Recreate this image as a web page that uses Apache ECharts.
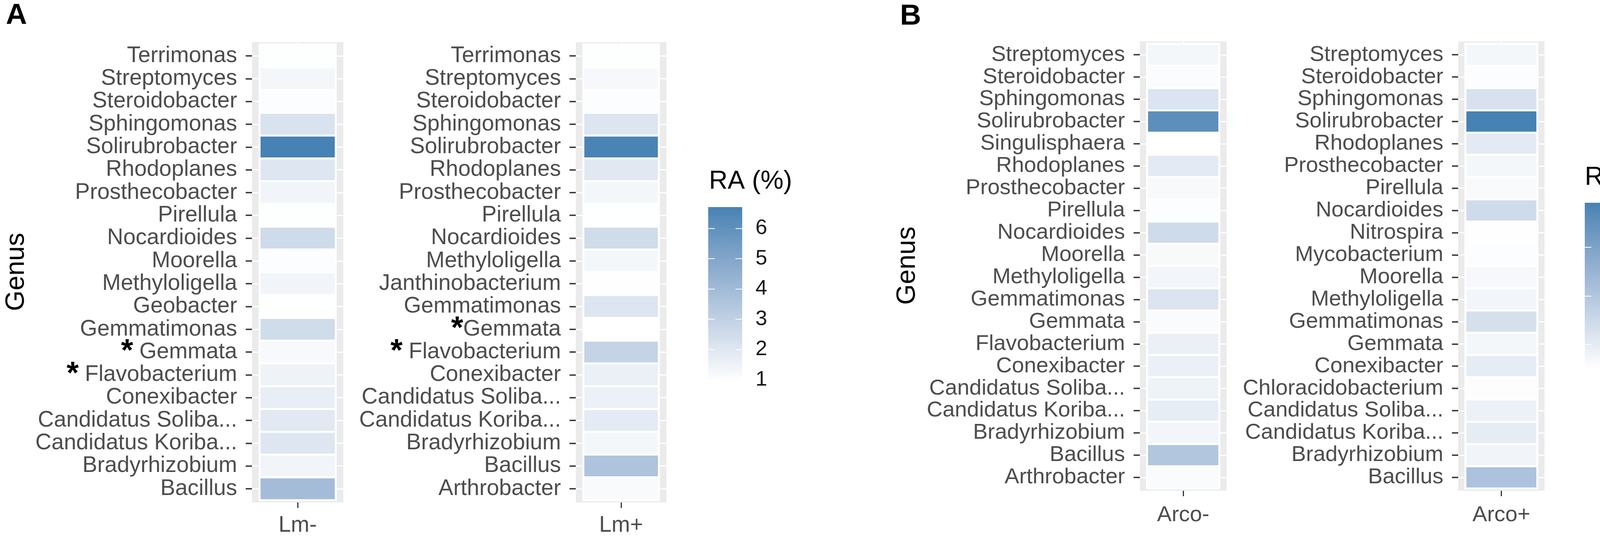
<!DOCTYPE html>
<html>
<head>
<meta charset="utf-8">
<script src="https://cdn.jsdelivr.net/npm/echarts@6/dist/echarts.min.js"></script>
<style>
html,body{margin:0;padding:0;background:#fff;}
#chart{width:4284px;height:1377px;}
</style>
</head>
<body>
<div id="chart"></div>
<script>
// genera listed top -> bottom, as drawn; "*" marks a significant genus
let lmMinusGenus=["Terrimonas","Streptomyces","Steroidobacter","Sphingomonas","Solirubrobacter","Rhodoplanes","Prosthecobacter","Pirellula","Nocardioides","Moorella","Methyloligella","Geobacter","Gemmatimonas","* Gemmata","* Flavobacterium","Conexibacter","Candidatus Soliba...","Candidatus Koriba...","Bradyrhizobium","Bacillus"];
let lmMinusRA=[1.0,1.3,1.05,2.2,6.7,2.05,1.4,1.0,2.55,1.05,1.4,0.97,2.5,1.2,1.5,1.7,1.9,2.05,1.4,3.9];

let lmPlusGenus=["Terrimonas","Streptomyces","Steroidobacter","Sphingomonas","Solirubrobacter","Rhodoplanes","Prosthecobacter","Pirellula","Nocardioides","Methyloligella","Janthinobacterium","Gemmatimonas","*Gemmata","* Flavobacterium","Conexibacter","Candidatus Soliba...","Candidatus Koriba...","Bradyrhizobium","Bacillus","Arthrobacter"];
let lmPlusRA=[1.0,1.25,1.05,2.1,6.6,1.95,1.3,0.97,2.5,1.3,0.98,2.1,0.95,2.9,1.6,1.55,1.8,1.3,3.6,1.15];

let arcoMinusGenus=["Streptomyces","Steroidobacter","Sphingomonas","Solirubrobacter","Singulisphaera","Rhodoplanes","Prosthecobacter","Pirellula","Nocardioides","Moorella","Methyloligella","Gemmatimonas","Gemmata","Flavobacterium","Conexibacter","Candidatus Soliba...","Candidatus Koriba...","Bradyrhizobium","Bacillus","Arthrobacter"];
let arcoMinusRA=[1.4,1.15,2.4,7.1,1.0,2.1,1.3,1.1,2.9,1.3,1.5,2.4,1.2,1.8,1.8,1.65,1.95,1.5,4.0,1.2];

let arcoPlusGenus=["Streptomyces","Steroidobacter","Sphingomonas","Solirubrobacter","Rhodoplanes","Prosthecobacter","Pirellula","Nocardioides","Nitrospira","Mycobacterium","Moorella","Methyloligella","Gemmatimonas","Gemmata","Conexibacter","Chloracidobacterium","Candidatus Soliba...","Candidatus Koriba...","Bradyrhizobium","Bacillus"];
let arcoPlusRA=[1.4,1.1,2.5,7.83,2.1,1.4,1.25,2.9,1.05,1.1,1.35,1.5,2.6,1.4,2.0,1.08,1.75,2.0,1.55,4.2];

let sampleNames=["Lm-","Lm+","Arco-","Arco+"];
let legendATicks=[1,2,3,4,5,6];
let legendBTicks=[2,4,6];

const FONT='"Liberation Sans", Arial, sans-serif';
const LOW='#FFFFFF', HIGH='#4682B4';

// ggplot-like gradient: interpolate in Lab
function hexToLab(hex){
    let c=[1,3,5].map(i=>parseInt(hex.substr(i,2),16)/255).map(v=>v<=0.04045?v/12.92:Math.pow((v+0.055)/1.055,2.4));
    let X=(0.4124*c[0]+0.3576*c[1]+0.1805*c[2])/0.95047;
    let Y=0.2126*c[0]+0.7152*c[1]+0.0722*c[2];
    let Z=(0.0193*c[0]+0.1192*c[1]+0.9505*c[2])/1.08883;
    let f=t=>t>0.008856?Math.cbrt(t):7.787*t+16/116;
    return [116*f(Y)-16,500*(f(X)-f(Y)),200*(f(Y)-f(Z))];
}
function labToHex(L,a,b){
    let fy=(L+16)/116, fx=fy+a/500, fz=fy-b/200;
    let inv=t=>t*t*t>0.008856?t*t*t:(t-16/116)/7.787;
    let X=inv(fx)*0.95047, Y=inv(fy), Z=inv(fz)*1.08883;
    let rgb=[3.2406*X-1.5372*Y-0.4986*Z,-0.9689*X+1.8758*Y+0.0415*Z,0.0557*X-0.2040*Y+1.0570*Z];
    return '#'+rgb.map(v=>{
        v=v<=0.0031308?12.92*v:1.055*Math.pow(v,1/2.4)-0.055;
        v=Math.round(Math.max(0,Math.min(1,v))*255);
        return v.toString(16).padStart(2,'0');
    }).join('');
}
function gradientColors(lo,hi,n){
    let a=hexToLab(lo), b=hexToLab(hi), out=[];
    for(let i=0;i<=n;i++){
        let t=i/n;
        out.push(labToHex(a[0]+(b[0]-a[0])*t,a[1]+(b[1]-a[1])*t,a[2]+(b[2]-a[2])*t));
    }
    return out;
}
let scaleColors=gradientColors(LOW,HIGH,20);

let allA=lmMinusRA.concat(lmPlusRA), allB=arcoMinusRA.concat(arcoPlusRA);
let rangeA=[Math.min(...allA),Math.max(...allA)];
let rangeB=[Math.min(...allB),Math.max(...allB)];

let panels=[
    {genus:lmMinusGenus, ra:lmMinusRA, grid:{left:645,top:108,width:234,height:1178}, fs:57, xMargin:31},
    {genus:lmPlusGenus, ra:lmPlusRA, grid:{left:1474,top:108,width:232,height:1178}, fs:57, xMargin:31},
    {genus:arcoMinusGenus, ra:arcoMinusRA, grid:{left:2918,top:106,width:222,height:1150}, fs:56, xMargin:35},
    {genus:arcoPlusGenus, ra:arcoPlusRA, grid:{left:3733,top:106,width:221,height:1150}, fs:56, xMargin:35}
];
let legends=[
    {range:rangeA, ticks:legendATicks, grid:{left:1813,top:530,width:87,height:446}},
    {range:rangeB, ticks:legendBTicks, grid:{left:4057,top:519,width:87,height:425}}
];

let grids=[], xAxes=[], yAxes=[], series=[];

panels.forEach(function(p,i){
    let n=p.genus.length;
    let ticksY=p.genus.map((g,k)=>n-k);
    grids.push(Object.assign({show:true,backgroundColor:'#EBEBEB',borderWidth:0},p.grid));
    xAxes.push({
        gridIndex:i, type:'value', min:0.4, max:1.6,
        axisLine:{show:false},
        axisTick:{show:true, customValues:[1], length:14, lineStyle:{color:'#333333',width:3}},
        axisLabel:{customValues:[1], formatter:()=>sampleNames[i], fontSize:p.fs, color:'#4D4D4D', fontFamily:FONT, margin:p.xMargin},
        splitLine:{show:true, lineStyle:{color:'#FFFFFF',width:3}}
    });
    yAxes.push({
        gridIndex:i, type:'value', min:0.4, max:n+0.6,
        axisLine:{show:false},
        axisTick:{show:true, customValues:ticksY, length:16, lineStyle:{color:'#333333',width:3.5}},
        axisLabel:{
            customValues:ticksY, fontSize:p.fs, color:'#4D4D4D', fontFamily:FONT, margin:38,
            formatter:function(v){
                let g=p.genus[n-Math.round(v)];
                return g.charAt(0)==='*' ? '{s|*}'+g.slice(1) : g;
            },
            rich:{s:{fontSize:80, fontWeight:'bold', color:'#000000', fontFamily:FONT, verticalAlign:'middle'}}
        },
        splitLine:{show:true, lineStyle:{color:'#FFFFFF',width:3}}
    });
    series.push({
        type:'custom', xAxisIndex:i, yAxisIndex:i,
        dimensions:['x','y','ra'],
        encode:{x:0,y:1},
        data:p.genus.map((g,k)=>[1,n-k,p.ra[k]]),
        renderItem:function(params,api){
            let p0=api.coord([api.value(0)-0.5,api.value(1)+0.5]);
            let p1=api.coord([api.value(0)+0.5,api.value(1)-0.5]);
            return {type:'rect',
                shape:{x:p0[0],y:p0[1],width:p1[0]-p0[0],height:p1[1]-p0[1]},
                style:{fill:api.visual('color'),stroke:'#FFFFFF',lineWidth:5}};
        }
    });
});

legends.forEach(function(l,j){
    let gi=4+j;
    grids.push(Object.assign({show:false},l.grid));
    xAxes.push({gridIndex:gi, type:'value', min:0, max:1, show:false});
    let common={gridIndex:gi, type:'value', min:l.range[0], max:l.range[1], z:10,
        axisLine:{show:false}, splitLine:{show:false}};
    yAxes.push(Object.assign({}, common, {position:'left',
        axisTick:{show:true, inside:true, customValues:l.ticks, length:17, lineStyle:{color:'#FFFFFF',width:2}},
        axisLabel:{show:false}}));
    yAxes.push(Object.assign({}, common, {position:'right',
        axisTick:{show:true, inside:true, customValues:l.ticks, length:17, lineStyle:{color:'#FFFFFF',width:2}},
        axisLabel:{customValues:l.ticks, fontSize:54, color:'#1A1A1A', fontFamily:FONT, margin:34}}));
    let stops=scaleColors.map((c,k)=>({offset:1-k/(scaleColors.length-1), color:c})).reverse();
    series.push({
        type:'custom', xAxisIndex:gi, yAxisIndex:4+j*2+1, z:1,
        data:[[0,l.range[0],l.range[1]]],
        renderItem:function(params,api){
            let p0=api.coord([0,api.value(2)]);
            let p1=api.coord([1,api.value(1)]);
            return {type:'rect',
                shape:{x:p0[0],y:p0[1],width:p1[0]-p0[0],height:p1[1]-p0[1]},
                style:{fill:{type:'linear',x:0,y:0,x2:0,y2:1,colorStops:stops}}};
        }
    });
});

let option={
    backgroundColor:'#FFFFFF',
    animation:false,
    grid:grids, xAxis:xAxes, yAxis:yAxes, series:series,
    visualMap:[
        {type:'continuous', show:false, seriesIndex:[0,1], dimension:2, min:rangeA[0], max:rangeA[1], inRange:{color:scaleColors}},
        {type:'continuous', show:false, seriesIndex:[2,3], dimension:2, min:rangeB[0], max:rangeB[1], inRange:{color:scaleColors}}
    ],
    graphic:[
        {type:'text', x:42, y:40, style:{text:'A', font:'bold 75px '+FONT, fill:'#000', textAlign:'center', textVerticalAlign:'middle'}},
        {type:'text', x:2331, y:42, style:{text:'B', font:'bold 75px '+FONT, fill:'#000', textAlign:'center', textVerticalAlign:'middle'}},
        {type:'text', x:42, y:696, rotation:Math.PI/2, style:{text:'Genus', font:'68px '+FONT, fill:'#000', textAlign:'center', textVerticalAlign:'middle'}},
        {type:'text', x:2323, y:680, rotation:Math.PI/2, style:{text:'Genus', font:'68px '+FONT, fill:'#000', textAlign:'center', textVerticalAlign:'middle'}},
        {type:'text', x:1815, y:465, style:{text:'RA (%)', font:'66px '+FONT, fill:'#000', textAlign:'left', textVerticalAlign:'middle'}},
        {type:'text', x:4057, y:455, style:{text:'RA (%)', font:'66px '+FONT, fill:'#000', textAlign:'left', textVerticalAlign:'middle'}}
    ]
};

let myChart=echarts.init(document.getElementById('chart'));
myChart.setOption(option);
</script>
</body>
</html>
